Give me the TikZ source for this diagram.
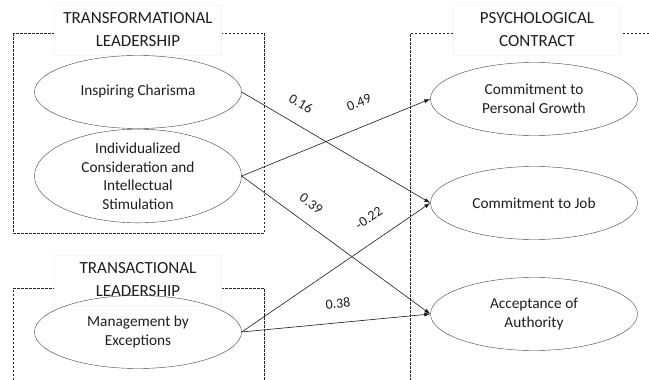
\documentclass[tikz,border=0pt]{standalone}
\usepackage{fontspec}
\setmainfont{Carlito}
\usetikzlibrary{shapes.geometric,arrows.meta}
\definecolor{linegray}{RGB}{25,25,25}
\definecolor{textgray}{RGB}{30,30,30}

\tikzset{
  construct/.style={ellipse, draw=black!75, minimum width=207pt, minimum height=73pt,
    inner sep=0pt, align=center, text=textgray, font=\fontsize{15.3}{18.5}\selectfont},
  groupbox/.style={draw=black!85, dash pattern=on 2.5pt off 1.5pt},
  grouptitle/.style={fill=white, draw=black!4, minimum width=167pt, minimum height=50pt,
    align=center, text=textgray, font=\fontsize{17}{23}\selectfont},
  effect/.style={draw=linegray, line width=0.6pt, -{Latex[length=6pt,width=4pt]}},
  coef/.style={sloped, above=7pt, inner sep=2pt, text=textgray, font=\fontsize{14}{16}\selectfont}
}

\begin{document}
\begin{tikzpicture}[x=1pt, y=-1pt]
    % page frame
    \useasboundingbox (0,0) rectangle (649,380);

    % Transformational leadership group
    \draw[groupbox] (13,33) rectangle (264,233);
    \node[grouptitle] (tfltitle) at (138,30) {TRANSFORMATIONAL\\LEADERSHIP};

    % Transactional leadership group (open at the bottom)
    \draw[groupbox] (13,380) -- (13,288) -- (264,288) -- (264,380);
    \node[grouptitle] (tsltitle) at (138,280) {TRANSACTIONAL\\LEADERSHIP};

    % Psychological contract group (open at right and bottom)
    \draw[groupbox] (649,33) -- (410,33) -- (410,380);
    \node[grouptitle] (pctitle) at (537,30) {PSYCHOLOGICAL\\CONTRACT};

    % Leadership constructs
    \node[construct] (charisma) at (138,92) {Inspiring Charisma};
    \node[construct] (indiv) at (138,176) {Individualized\\Consideration and\\Intellectual\\Stimulation};
    \node[construct] (mbe) at (138,332) {Management by\\Exceptions};

    % Contract constructs
    \node[construct] (growth) at (534,99) {Commitment to\\Personal Growth};
    \node[construct] (job) at (534,203) {Commitment to Job};
    \node[construct] (authority) at (534,314) {Acceptance of\\Authority};

    % Paths with coefficients
    \draw[effect] (charisma.east) -- node[coef, pos=0.26, above=6pt] {0.16} (job.west);
    \draw[effect] (indiv.east) -- node[coef, pos=0.67, above=10pt] {0.49} (growth.west);
    \draw[effect] (indiv.east) -- node[coef, pos=0.31, above=5pt] {0.39} (authority.west);
    \draw[effect] (mbe.east) -- node[coef, pos=0.74, above=8pt] {-0.22} (job.west);
    \draw[effect] (mbe.east) -- node[coef, pos=0.52, above=5pt] {0.38} (authority.west);
\end{tikzpicture}
\end{document}
